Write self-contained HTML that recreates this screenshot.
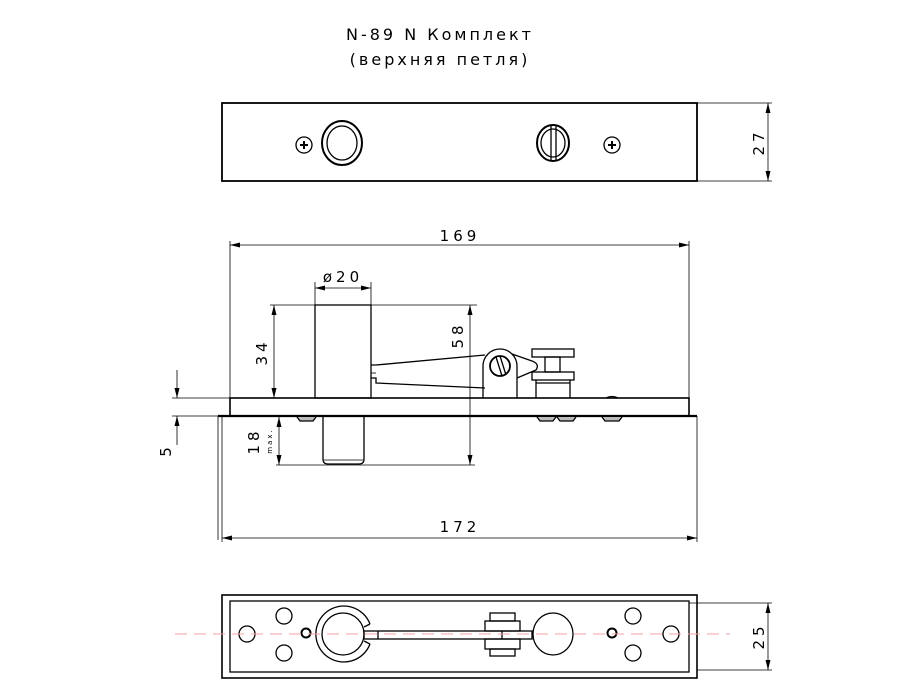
<!DOCTYPE html>
<html><head><meta charset="utf-8"><style>
html,body{margin:0;padding:0;background:#fff;}
svg{display:block;}
text{font-family:"DejaVu Sans","Liberation Sans",sans-serif;fill:#000;}
</style></head><body>
<svg width="900" height="700" viewBox="0 0 900 700" xmlns="http://www.w3.org/2000/svg">
<defs>
<marker id="a" viewBox="0 0 10 10" refX="10" refY="5" markerWidth="10" markerHeight="10" markerUnits="userSpaceOnUse" orient="auto-start-reverse"><path d="M0,2.5 L10,5 L0,7.5 Z" fill="#000"/></marker>
</defs>
<text x="440" y="40" font-size="16" text-anchor="middle" letter-spacing="3">N-89 N Комплект</text>
<text x="440" y="65" font-size="16" text-anchor="middle" letter-spacing="3">(верхняя петля)</text>

<g fill="none" stroke="#000" stroke-width="1.3">
<!-- top view -->
<rect x="222" y="103" width="475" height="78" stroke-width="1.8"/>
<line x1="697" y1="103" x2="772" y2="103" stroke-width="0.8"/>
<line x1="697" y1="181" x2="772" y2="181" stroke-width="0.8"/>
<line x1="768" y1="103" x2="768" y2="181" stroke-width="0.8" marker-start="url(#a)" marker-end="url(#a)"/>
<circle cx="304" cy="145" r="8"/>
<path d="M300,145h8M304,141v8" stroke-width="2"/>
<ellipse cx="342" cy="143" rx="20" ry="22" stroke-width="2"/>
<ellipse cx="342" cy="143" rx="15" ry="17"/>
<ellipse cx="553" cy="143" rx="16" ry="18" stroke-width="2"/>
<ellipse cx="553" cy="143" rx="12" ry="14"/>
<line x1="551" y1="125" x2="551" y2="161"/><line x1="556" y1="125" x2="556" y2="161"/>
<circle cx="612" cy="145" r="8"/>
<path d="M608,145h8M612,141v8" stroke-width="2"/>

<!-- middle view -->
<line x1="230" y1="241" x2="230" y2="398" stroke-width="0.8"/>
<line x1="689" y1="241" x2="689" y2="398" stroke-width="0.8"/>
<line x1="230" y1="245" x2="689" y2="245" stroke-width="0.8" marker-start="url(#a)" marker-end="url(#a)"/>
<rect x="230" y="398" width="459" height="18" stroke-width="1.6"/>
<line x1="218" y1="416" x2="697" y2="416" stroke-width="2.2"/>
<line x1="218" y1="416" x2="218" y2="540" stroke-width="0.8"/>
<line x1="222" y1="416" x2="222" y2="542" stroke-width="0.8"/>
<line x1="697" y1="416" x2="697" y2="542" stroke-width="0.8"/>
<line x1="222" y1="538" x2="697" y2="538" stroke-width="0.8" marker-start="url(#a)" marker-end="url(#a)"/>
<!-- cylinder -->
<rect x="315" y="305" width="56" height="93"/>
<line x1="315" y1="282" x2="315" y2="305" stroke-width="0.8"/>
<line x1="371" y1="282" x2="371" y2="305" stroke-width="0.8"/>
<line x1="315" y1="288" x2="371" y2="288" stroke-width="0.8" marker-start="url(#a)" marker-end="url(#a)"/>
<line x1="270" y1="305" x2="477" y2="305" stroke-width="0.8"/>
<line x1="274" y1="305" x2="274" y2="398" stroke-width="0.8" marker-start="url(#a)" marker-end="url(#a)"/>
<line x1="270" y1="398" x2="300" y2="398" stroke-width="0.8"/>
<line x1="470" y1="305" x2="470" y2="465" stroke-width="0.8" marker-start="url(#a)" marker-end="url(#a)"/>
<line x1="279" y1="417" x2="279" y2="465" stroke-width="0.8" marker-start="url(#a)" marker-end="url(#a)"/>
<line x1="276" y1="465" x2="475" y2="465" stroke-width="0.8"/>
<!-- pin -->
<path d="M323,417 V459 Q323,464 328,464 H359 Q364,464 364,459 V417"/>
<line x1="324" y1="460" x2="363" y2="460" stroke-width="0.8"/>
<!-- arm -->
<path d="M371,365 H376 L485,355"/>
<path d="M371,378 H376 L376,383 L485,388"/>
<line x1="371" y1="373" x2="376" y2="373" stroke-width="0.8"/>
<!-- clevis -->
<path d="M483,398 V366 A17,17 0 0 1 517,366 V398"/>
<circle cx="500" cy="366" r="10" stroke-width="1.8"/>
<line x1="496" y1="357" x2="502" y2="376"/><line x1="500" y1="356" x2="506" y2="375"/>
<path d="M512,354 L532,361 Q540,364 536,370 L517,378"/>
<!-- knob -->
<rect x="532" y="349" width="42" height="8"/>
<rect x="545" y="357" width="15" height="15"/>
<rect x="532" y="372" width="42" height="8"/>
<path d="M536,380 V398 M570,380 V398 M536,383 H570"/>
<!-- small features -->
<path d="M297,417 L300,421 H313 L316,417" fill="#bbb"/>
<path d="M537,417 L540,421 H553 L556,417" fill="#bbb"/>
<path d="M557,417 L560,421 H573 L576,417" fill="#bbb"/>
<path d="M602,417 L605,421 H619 L622,417" fill="#bbb"/>
<path d="M606,398 Q612,395 618,398" />
<!-- left 5 dim -->
<line x1="172" y1="398" x2="230" y2="398" stroke-width="0.8"/>
<line x1="172" y1="416" x2="218" y2="416" stroke-width="0.8"/>
<line x1="177" y1="370" x2="177" y2="398" stroke-width="0.8" marker-end="url(#a)"/>
<line x1="177" y1="445" x2="177" y2="416" stroke-width="0.8" marker-end="url(#a)"/>

<!-- bottom view -->
<rect x="222" y="595" width="475" height="83" stroke-width="1.6"/>
<rect x="230" y="601" width="459" height="71"/>
<line x1="689" y1="603" x2="772" y2="603" stroke-width="0.8"/>
<line x1="697" y1="670" x2="772" y2="670" stroke-width="0.8"/>
<line x1="768" y1="603" x2="768" y2="670" stroke-width="0.8" marker-start="url(#a)" marker-end="url(#a)"/>
<circle cx="247" cy="634" r="8"/>
<circle cx="284" cy="616" r="8"/><circle cx="284" cy="653" r="8"/>
<circle cx="306" cy="633" r="4.5" stroke-width="2"/>
<path d="M370,624 A28,28 0 1 0 370,644" />
<line x1="370" y1="624" x2="364" y2="627"/><line x1="370" y1="644" x2="364" y2="641"/>
<circle cx="343" cy="634" r="21"/>
<rect x="364" y="631" width="168" height="8"/>
<line x1="378" y1="631" x2="378" y2="639"/>
<rect x="485" y="621" width="35" height="10"/>
<rect x="485" y="639" width="35" height="10"/>
<rect x="490" y="613" width="25" height="8"/>
<rect x="490" y="649" width="25" height="7"/>
<line x1="502" y1="631" x2="502" y2="639"/>
<ellipse cx="553" cy="634" rx="20" ry="21"/>
<circle cx="612" cy="633" r="4.5" stroke-width="2"/>
<circle cx="633" cy="616" r="8"/><circle cx="633" cy="653" r="8"/>
<circle cx="671" cy="634" r="8"/>
</g>
<line x1="175" y1="634" x2="730" y2="634" stroke="#f4a0a0" stroke-width="1" stroke-dasharray="12,7"/>

<text font-size="15" letter-spacing="4" text-anchor="middle" transform="translate(764,142) rotate(-90)">27</text>
<text x="460" y="241" font-size="15" letter-spacing="4" text-anchor="middle">169</text>
<text x="343" y="282" font-size="15" letter-spacing="4" text-anchor="middle">ø20</text>
<text font-size="15" letter-spacing="4" text-anchor="middle" transform="translate(267,352) rotate(-90)">34</text>
<text font-size="15" letter-spacing="4" text-anchor="middle" transform="translate(463,335) rotate(-90)">58</text>
<text font-size="15" letter-spacing="4" text-anchor="middle" transform="translate(259,441) rotate(-90)">18</text>
<text font-size="7" letter-spacing="2" text-anchor="middle" transform="translate(272,441) rotate(-90)">max.</text>
<text font-size="15" text-anchor="middle" transform="translate(171,452) rotate(-90)">5</text>
<text x="460" y="532" font-size="15" letter-spacing="4" text-anchor="middle">172</text>
<text font-size="15" letter-spacing="4" text-anchor="middle" transform="translate(764,636) rotate(-90)">25</text>
</svg>
</body></html>
